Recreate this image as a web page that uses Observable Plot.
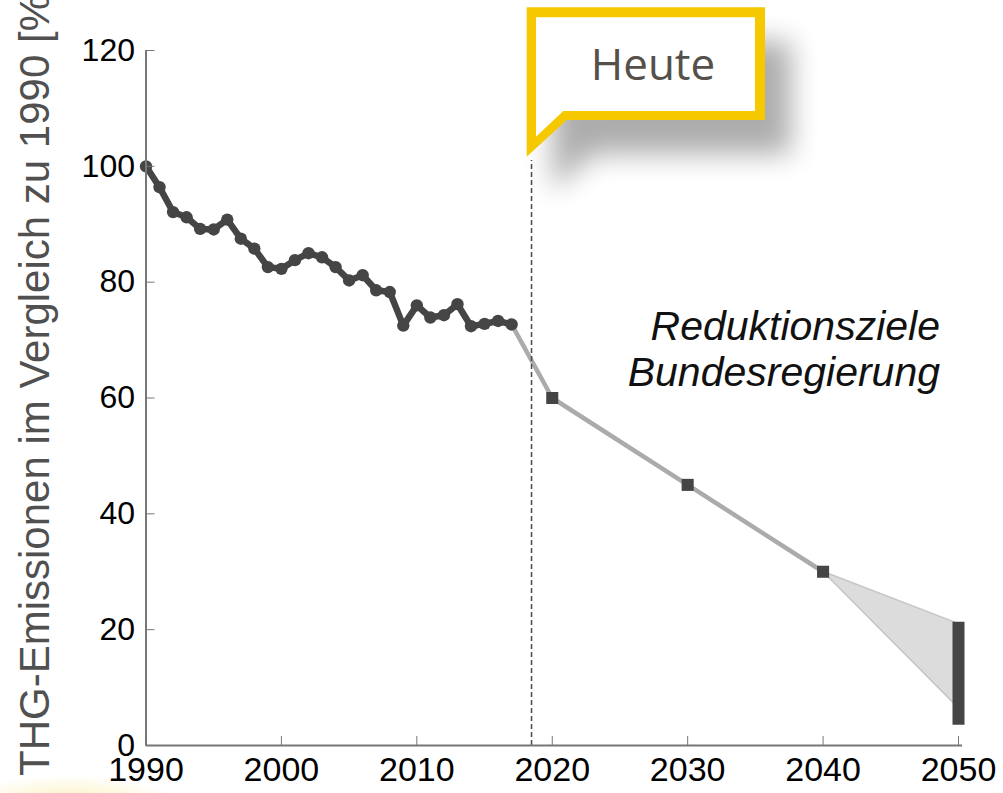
<!DOCTYPE html>
<html>
<head>
<meta charset="utf-8">
<script src="https://cdn.jsdelivr.net/npm/d3@7"></script>
<script src="https://cdn.jsdelivr.net/npm/@observablehq/plot@0.6"></script>
<style>
  html, body { margin: 0; padding: 0; background: white; overflow: hidden; }
  svg { display: block; }
</style>
</head>
<body>
<div id="chart"></div>
<script>
// ---- Data ----
const histYears = [1990,1991,1992,1993,1994,1995,1996,1997,1998,1999,2000,2001,2002,2003,2004,2005,2006,2007,2008,2009,2010,2011,2012,2013,2014,2015,2016,2017];
const histValues = [100,96.4,92.1,91.2,89.2,89.1,90.8,87.5,85.8,82.6,82.3,83.8,85.0,84.3,82.6,80.3,81.2,78.6,78.3,72.5,76.0,73.9,74.3,76.2,72.4,72.8,73.3,72.7];

const targetYears = [2020, 2030, 2040];
const targetValues = [60, 45, 30];

const rangeYears = [2040, 2050];
const rangeLow = [30, 6.5];
const rangeHigh = [30, 21];

const barYear = [2050];
const barLow = [3.5];
const barHigh = [21.3];

const todayYear = 2018.47;
const todayTop = 101;

const xTicks = [1990, 2000, 2010, 2020, 2030, 2040, 2050];
const yTicks = [0, 20, 40, 60, 80, 100, 120];

const yLabel = "THG-Emissionen im Vergleich zu 1990 [%]";
const noteLines = ["Reduktionsziele", "Bundesregierung"];
const calloutText = "Heute";

// ---- Tables ----
const history = histYears.map((year, i) => ({year, value: histValues[i]}));
const targets = targetYears.map((year, i) => ({year, value: targetValues[i]}));
const projection = [history[history.length - 1], ...targets];
const range = rangeYears.map((year, i) => ({year, low: rangeLow[i], high: rangeHigh[i]}));
const bar = barYear.map((year, i) => ({year, low: barLow[i], high: barHigh[i]}));

const dark = "#454545";
const font = "'Liberation Sans', Arial, Helvetica, sans-serif";

const chart = Plot.plot({
  width: 1003,
  height: 793,
  marginLeft: 145.5,
  marginRight: 45,
  marginTop: 50,
  marginBottom: 48,
  x: {domain: [1990, 2050]},
  y: {domain: [0, 120]},
  style: {fontFamily: font, background: "white", color: "black"},
  marks: [
    Plot.areaY(range, {x: "year", y1: "low", y2: "high", fill: "#dcdcdc", stroke: "#c6c6c6", strokeWidth: 1.5}),
    Plot.line(projection, {x: "year", y: "value", stroke: "#ababab", strokeWidth: 4.5}),
    Plot.ruleX([todayYear], {y1: 0, y2: todayTop, stroke: "#4a4a4a", strokeWidth: 1.5, strokeDasharray: "5,3"}),
    Plot.line(history, {x: "year", y: "value", stroke: dark, strokeWidth: 6.5, strokeLinejoin: "round"}),
    Plot.dot(history, {x: "year", y: "value", r: 6.2, fill: dark}),
    Plot.dot(targets, {x: "year", y: "value", symbol: "square", r: 6.8, fill: dark}),
    Plot.ruleX(bar, {x: "year", y1: "low", y2: "high", stroke: dark, strokeWidth: 12}),
    Plot.ruleX([1990], {y1: 0, y2: 120, stroke: "#777", strokeWidth: 2}),
    Plot.ruleY([0], {stroke: "#777", strokeWidth: 2, insetRight: -4}),
    Plot.axisY({ticks: yTicks, tickSize: -9, tickPadding: 20, fontSize: 32, stroke: "#777", fill: "black", label: null}),
    Plot.axisX({ticks: xTicks, tickSize: -9, tickPadding: 20, fontSize: 34, stroke: "#777", fill: "black", tickFormat: d3.format("d"), label: null})
  ]
});

document.getElementById("chart").appendChild(chart);

// ---- Annotations ----
const svg = d3.select(chart);
const defs = svg.append("defs");
const f = defs.append("filter").attr("id", "shadowBlur")
  .attr("x", "-50%").attr("y", "-50%").attr("width", "200%").attr("height", "200%");
f.append("feGaussianBlur").attr("stdDeviation", 14);
const g = defs.append("radialGradient").attr("id", "glow");
g.append("stop").attr("offset", "0%").attr("stop-color", "#f6dc55").attr("stop-opacity", 0.55);
g.append("stop").attr("offset", "100%").attr("stop-color", "#f6dc55").attr("stop-opacity", 0);

// faint yellow glow bottom-left
svg.append("ellipse").attr("cx", 70).attr("cy", 815).attr("rx", 120).attr("ry", 40).attr("fill", "url(#glow)");

// y axis label
svg.append("text")
  .attr("transform", "translate(49,776) rotate(-90)")
  .attr("text-anchor", "start")
  .attr("font-family", font)
  .attr("font-size", 42)
  .attr("fill", "#505050")
  .text(yLabel);

// note
const note = svg.append("text")
  .attr("font-family", font)
  .attr("font-size", 41)
  .attr("font-style", "italic")
  .attr("fill", "#111")
  .attr("text-anchor", "end");
note.append("tspan").attr("x", 940).attr("y", 340).text(noteLines[0]);
note.append("tspan").attr("x", 940).attr("y", 386).text(noteLines[1]);

// callout
const outer = "M526.7,7.3 H765 V120 H566.7 L526.7,156.7 Z";
const inner = "M536,17.3 H755 V111 H563.3 L536,136.7 Z";
svg.append("path").attr("d", outer).attr("transform", "translate(26,34)")
  .attr("fill", "#000").attr("opacity", 0.32).attr("filter", "url(#shadowBlur)");
svg.append("path").attr("d", outer).attr("fill", "#F5C800");
svg.append("path").attr("d", inner).attr("fill", "white");
svg.append("text")
  .attr("x", 653).attr("y", 80)
  .attr("text-anchor", "middle")
  .attr("font-family", "'Open Sans', 'Noto Sans', sans-serif")
  .attr("font-size", 44)
  .attr("fill", "#555049")
  .text(calloutText);
</script>
</body>
</html>
